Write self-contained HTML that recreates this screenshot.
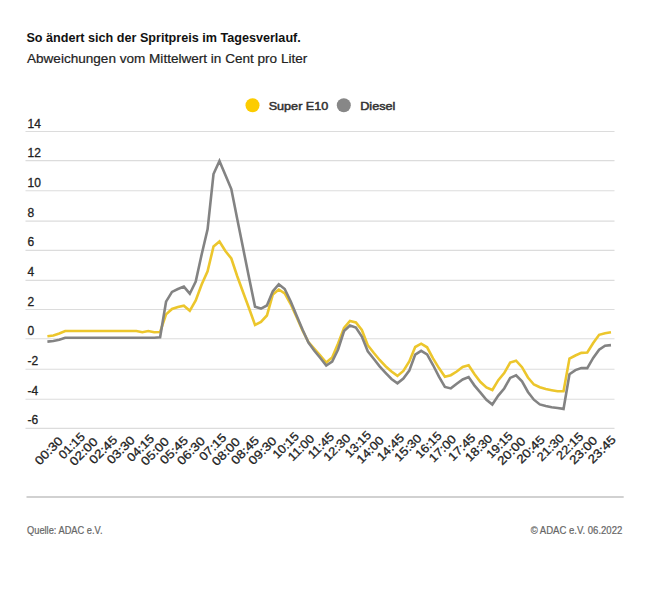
<!DOCTYPE html>
<html><head><meta charset="utf-8"><style>
html,body{margin:0;padding:0;background:#fff;}
body{width:650px;height:591px;overflow:hidden;position:relative;font-family:"Liberation Sans", sans-serif;}
svg{position:absolute;left:0;top:0;}
svg text{font-family:"Liberation Sans", sans-serif;}
</style></head><body>
<svg width="650" height="591" viewBox="0 0 650 591">
<text x="26.4" y="42.4" font-size="12" font-weight="bold" fill="#111" textLength="274.4" lengthAdjust="spacingAndGlyphs">So ändert sich der Spritpreis im Tagesverlauf.</text>
<text x="27" y="63.2" font-size="12.6" fill="#222" stroke="#222" stroke-width="0.2" textLength="280.3" lengthAdjust="spacingAndGlyphs">Abweichungen vom Mittelwert in Cent pro Liter</text>
<circle cx="252.5" cy="105.2" r="7" fill="#fccc00"/>
<text x="268.7" y="109.7" font-size="11.6" fill="#333" stroke="#333" stroke-width="0.5" textLength="59.6" lengthAdjust="spacingAndGlyphs">Super E10</text>
<circle cx="343.8" cy="105.2" r="7" fill="#878787"/>
<text x="360.2" y="109.7" font-size="11.6" fill="#333" stroke="#333" stroke-width="0.5" textLength="35.2" lengthAdjust="spacingAndGlyphs">Diesel</text>
<line x1="25.5" x2="614.5" y1="131.5" y2="131.5" stroke="#dcdcdc" stroke-width="1.1"/>
<text x="27.6" y="127.5" font-size="12" fill="#222" stroke="#222" stroke-width="0.3">14</text>
<line x1="25.5" x2="614.5" y1="160.6" y2="160.6" stroke="#dcdcdc" stroke-width="1.1"/>
<text x="27.6" y="156.6" font-size="12" fill="#222" stroke="#222" stroke-width="0.3">12</text>
<line x1="25.5" x2="614.5" y1="190.8" y2="190.8" stroke="#dcdcdc" stroke-width="1.1"/>
<text x="27.6" y="186.8" font-size="12" fill="#222" stroke="#222" stroke-width="0.3">10</text>
<line x1="25.5" x2="614.5" y1="221.1" y2="221.1" stroke="#dcdcdc" stroke-width="1.1"/>
<text x="27.6" y="217.1" font-size="12" fill="#222" stroke="#222" stroke-width="0.3">8</text>
<line x1="25.5" x2="614.5" y1="250.4" y2="250.4" stroke="#dcdcdc" stroke-width="1.1"/>
<text x="27.6" y="246.4" font-size="12" fill="#222" stroke="#222" stroke-width="0.3">6</text>
<line x1="25.5" x2="614.5" y1="280.4" y2="280.4" stroke="#dcdcdc" stroke-width="1.1"/>
<text x="27.6" y="276.4" font-size="12" fill="#222" stroke="#222" stroke-width="0.3">4</text>
<line x1="25.5" x2="614.5" y1="309.5" y2="309.5" stroke="#dcdcdc" stroke-width="1.1"/>
<text x="27.6" y="305.5" font-size="12" fill="#222" stroke="#222" stroke-width="0.3">2</text>
<line x1="25.5" x2="614.5" y1="338.75" y2="338.75" stroke="#dcdcdc" stroke-width="1.1"/>
<text x="27.6" y="334.8" font-size="12" fill="#222" stroke="#222" stroke-width="0.3">0</text>
<line x1="25.5" x2="614.5" y1="369.2" y2="369.2" stroke="#dcdcdc" stroke-width="1.1"/>
<text x="27.6" y="365.2" font-size="12" fill="#222" stroke="#222" stroke-width="0.3">-2</text>
<line x1="25.5" x2="614.5" y1="399.3" y2="399.3" stroke="#dcdcdc" stroke-width="1.1"/>
<text x="27.6" y="395.3" font-size="12" fill="#222" stroke="#222" stroke-width="0.3">-4</text>
<line x1="25.5" x2="614.5" y1="428.4" y2="428.4" stroke="#dcdcdc" stroke-width="1.1"/>
<text x="27.6" y="424.4" font-size="12" fill="#222" stroke="#222" stroke-width="0.3">-6</text>
<polyline points="47.40,336.30 53.33,335.50 59.27,333.50 65.20,331.00 71.13,331.00 77.06,331.00 83.00,331.00 88.93,331.00 94.86,331.00 100.79,331.00 106.73,331.00 112.66,331.00 118.59,331.00 124.52,331.00 130.46,331.00 136.39,331.00 142.32,332.20 148.25,331.00 154.19,332.20 160.12,332.00 166.05,314.40 171.99,309.00 177.92,307.00 183.85,305.70 189.78,310.80 195.72,300.50 201.65,284.50 207.58,271.30 213.51,246.50 219.45,241.50 225.38,251.00 231.31,258.50 237.24,276.20 243.18,292.50 249.11,308.50 255.04,325.00 260.97,322.00 266.91,315.50 272.84,294.50 278.77,289.50 284.71,293.40 290.64,304.00 296.57,317.00 302.50,330.50 308.44,342.00 314.37,348.80 320.30,355.70 326.23,362.50 332.17,357.50 338.10,343.50 344.03,328.00 349.96,321.00 355.90,322.50 361.83,330.00 367.76,345.20 373.69,352.80 379.63,360.00 385.56,366.20 391.49,371.50 397.43,375.90 403.36,371.00 409.29,361.50 415.22,347.00 421.16,343.70 427.09,347.30 433.02,358.40 438.95,368.10 444.89,376.70 450.82,375.20 456.75,371.50 462.68,367.00 468.62,365.30 474.55,374.30 480.48,382.00 486.41,387.50 492.35,390.00 498.28,380.20 504.21,373.10 510.15,362.50 516.08,360.70 522.01,367.20 527.94,377.50 533.88,384.50 539.81,387.30 545.74,389.10 551.67,390.20 557.61,391.20 563.54,391.30 569.47,358.60 575.40,355.50 581.34,352.90 587.27,352.50 593.20,343.00 599.13,334.80 605.07,333.20 611.00,332.20" fill="none" stroke="#ecc62c" stroke-width="2.6" stroke-linejoin="miter" stroke-miterlimit="4"/>
<polyline points="47.40,341.60 53.33,341.00 59.27,339.80 65.20,337.70 71.13,337.70 77.06,337.70 83.00,337.70 88.93,337.70 94.86,337.70 100.79,337.70 106.73,337.70 112.66,337.70 118.59,337.70 124.52,337.70 130.46,337.70 136.39,337.70 142.32,337.70 148.25,337.70 154.19,337.70 160.12,337.20 166.05,301.70 171.99,291.90 177.92,289.00 183.85,286.60 189.78,293.70 195.72,281.50 201.65,254.50 207.58,229.40 213.51,174.00 219.45,161.00 225.38,175.00 231.31,189.10 237.24,219.00 243.18,248.60 249.11,278.00 255.04,306.80 260.97,308.60 266.91,305.50 272.84,291.30 278.77,284.20 284.71,289.00 290.64,301.30 296.57,315.50 302.50,329.50 308.44,342.50 314.37,350.70 320.30,358.00 326.23,365.50 332.17,361.50 338.10,349.50 344.03,331.00 349.96,325.50 355.90,327.50 361.83,336.50 367.76,351.30 373.69,358.70 379.63,366.40 385.56,372.80 391.49,379.00 397.43,383.30 403.36,378.50 409.29,370.60 415.22,354.60 421.16,350.80 427.09,354.40 433.02,365.00 438.95,376.70 444.89,386.90 450.82,388.40 456.75,383.80 462.68,379.50 468.62,377.00 474.55,385.60 480.48,392.70 486.41,399.80 492.35,404.50 498.28,395.60 504.21,388.50 510.15,377.90 516.08,375.30 522.01,381.40 527.94,392.00 533.88,399.70 539.81,404.40 545.74,405.90 551.67,407.20 557.61,408.00 563.54,408.90 569.47,374.20 575.40,370.10 581.34,368.10 587.27,368.10 593.20,357.90 599.13,349.80 605.07,345.70 611.00,345.10" fill="none" stroke="#838383" stroke-width="2.6" stroke-linejoin="miter" stroke-miterlimit="4"/>
<text x="63.63" y="441.71" font-size="12" fill="#222" stroke="#222" stroke-width="0.3" text-anchor="end" textLength="33.9" lengthAdjust="spacingAndGlyphs" transform="rotate(-45 63.63 441.71)">00:30</text>
<text x="85.67" y="437.47" font-size="12" fill="#222" stroke="#222" stroke-width="0.3" text-anchor="end" textLength="31.5" lengthAdjust="spacingAndGlyphs" transform="rotate(-45 85.67 437.47)">01:15</text>
<text x="98.52" y="442.42" font-size="12" fill="#222" stroke="#222" stroke-width="0.3" text-anchor="end" textLength="33.9" lengthAdjust="spacingAndGlyphs" transform="rotate(-45 98.52 442.42)">02:00</text>
<text x="118.02" y="440.72" font-size="12" fill="#222" stroke="#222" stroke-width="0.3" text-anchor="end" textLength="33.9" lengthAdjust="spacingAndGlyphs" transform="rotate(-45 118.02 440.72)">02:45</text>
<text x="135.67" y="440.86" font-size="12" fill="#222" stroke="#222" stroke-width="0.3" text-anchor="end" textLength="33.9" lengthAdjust="spacingAndGlyphs" transform="rotate(-45 135.67 440.86)">03:30</text>
<text x="154.95" y="439.38" font-size="12" fill="#222" stroke="#222" stroke-width="0.3" text-anchor="end" textLength="32.7" lengthAdjust="spacingAndGlyphs" transform="rotate(-45 154.95 439.38)">04:15</text>
<text x="169.85" y="442.28" font-size="12" fill="#222" stroke="#222" stroke-width="0.3" text-anchor="end" textLength="33.9" lengthAdjust="spacingAndGlyphs" transform="rotate(-45 169.85 442.28)">05:00</text>
<text x="188.78" y="441.15" font-size="12" fill="#222" stroke="#222" stroke-width="0.3" text-anchor="end" textLength="33.9" lengthAdjust="spacingAndGlyphs" transform="rotate(-45 188.78 441.15)">05:45</text>
<text x="205.94" y="441.78" font-size="12" fill="#222" stroke="#222" stroke-width="0.3" text-anchor="end" textLength="33.9" lengthAdjust="spacingAndGlyphs" transform="rotate(-45 205.94 441.78)">06:30</text>
<text x="227.07" y="438.46" font-size="12" fill="#222" stroke="#222" stroke-width="0.3" text-anchor="end" textLength="32.7" lengthAdjust="spacingAndGlyphs" transform="rotate(-45 227.07 438.46)">07:15</text>
<text x="240.83" y="442.49" font-size="12" fill="#222" stroke="#222" stroke-width="0.3" text-anchor="end" textLength="33.9" lengthAdjust="spacingAndGlyphs" transform="rotate(-45 240.83 442.49)">08:00</text>
<text x="259.90" y="441.22" font-size="12" fill="#222" stroke="#222" stroke-width="0.3" text-anchor="end" textLength="33.9" lengthAdjust="spacingAndGlyphs" transform="rotate(-45 259.90 441.22)">08:45</text>
<text x="277.35" y="441.57" font-size="12" fill="#222" stroke="#222" stroke-width="0.3" text-anchor="end" textLength="33.9" lengthAdjust="spacingAndGlyphs" transform="rotate(-45 277.35 441.57)">09:30</text>
<text x="299.67" y="437.05" font-size="12" fill="#222" stroke="#222" stroke-width="0.3" text-anchor="end" textLength="31.5" lengthAdjust="spacingAndGlyphs" transform="rotate(-45 299.67 437.05)">10:15</text>
<text x="314.99" y="439.52" font-size="12" fill="#222" stroke="#222" stroke-width="0.3" text-anchor="end" textLength="31.5" lengthAdjust="spacingAndGlyphs" transform="rotate(-45 314.99 439.52)">11:00</text>
<text x="334.98" y="437.33" font-size="12" fill="#222" stroke="#222" stroke-width="0.3" text-anchor="end" textLength="31.5" lengthAdjust="spacingAndGlyphs" transform="rotate(-45 334.98 437.33)">11:45</text>
<text x="351.37" y="438.74" font-size="12" fill="#222" stroke="#222" stroke-width="0.3" text-anchor="end" textLength="32.7" lengthAdjust="spacingAndGlyphs" transform="rotate(-45 351.37 438.74)">12:30</text>
<text x="371.99" y="435.92" font-size="12" fill="#222" stroke="#222" stroke-width="0.3" text-anchor="end" textLength="31.5" lengthAdjust="spacingAndGlyphs" transform="rotate(-45 371.99 435.92)">13:15</text>
<text x="384.63" y="441.08" font-size="12" fill="#222" stroke="#222" stroke-width="0.3" text-anchor="end" textLength="32.7" lengthAdjust="spacingAndGlyphs" transform="rotate(-45 384.63 441.08)">14:00</text>
<text x="404.83" y="438.67" font-size="12" fill="#222" stroke="#222" stroke-width="0.3" text-anchor="end" textLength="32.7" lengthAdjust="spacingAndGlyphs" transform="rotate(-45 404.83 438.67)">14:45</text>
<text x="422.28" y="439.03" font-size="12" fill="#222" stroke="#222" stroke-width="0.3" text-anchor="end" textLength="32.7" lengthAdjust="spacingAndGlyphs" transform="rotate(-45 422.28 439.03)">15:30</text>
<text x="442.48" y="436.62" font-size="12" fill="#222" stroke="#222" stroke-width="0.3" text-anchor="end" textLength="31.5" lengthAdjust="spacingAndGlyphs" transform="rotate(-45 442.48 436.62)">16:15</text>
<text x="456.95" y="439.95" font-size="12" fill="#222" stroke="#222" stroke-width="0.3" text-anchor="end" textLength="32.7" lengthAdjust="spacingAndGlyphs" transform="rotate(-45 456.95 439.95)">17:00</text>
<text x="476.17" y="438.53" font-size="12" fill="#222" stroke="#222" stroke-width="0.3" text-anchor="end" textLength="32.7" lengthAdjust="spacingAndGlyphs" transform="rotate(-45 476.17 438.53)">17:45</text>
<text x="493.26" y="439.24" font-size="12" fill="#222" stroke="#222" stroke-width="0.3" text-anchor="end" textLength="32.7" lengthAdjust="spacingAndGlyphs" transform="rotate(-45 493.26 439.24)">18:30</text>
<text x="513.46" y="436.83" font-size="12" fill="#222" stroke="#222" stroke-width="0.3" text-anchor="end" textLength="31.5" lengthAdjust="spacingAndGlyphs" transform="rotate(-45 513.46 436.83)">19:15</text>
<text x="526.24" y="441.85" font-size="12" fill="#222" stroke="#222" stroke-width="0.3" text-anchor="end" textLength="33.9" lengthAdjust="spacingAndGlyphs" transform="rotate(-45 526.24 441.85)">20:00</text>
<text x="545.52" y="440.37" font-size="12" fill="#222" stroke="#222" stroke-width="0.3" text-anchor="end" textLength="33.9" lengthAdjust="spacingAndGlyphs" transform="rotate(-45 545.52 440.37)">20:45</text>
<text x="564.87" y="438.81" font-size="12" fill="#222" stroke="#222" stroke-width="0.3" text-anchor="end" textLength="32.7" lengthAdjust="spacingAndGlyphs" transform="rotate(-45 564.87 438.81)">21:30</text>
<text x="584.15" y="437.33" font-size="12" fill="#222" stroke="#222" stroke-width="0.3" text-anchor="end" textLength="32.7" lengthAdjust="spacingAndGlyphs" transform="rotate(-45 584.15 437.33)">22:15</text>
<text x="598.13" y="441.15" font-size="12" fill="#222" stroke="#222" stroke-width="0.3" text-anchor="end" textLength="33.9" lengthAdjust="spacingAndGlyphs" transform="rotate(-45 598.13 441.15)">23:00</text>
<text x="616.71" y="440.37" font-size="12" fill="#222" stroke="#222" stroke-width="0.3" text-anchor="end" textLength="33.9" lengthAdjust="spacingAndGlyphs" transform="rotate(-45 616.71 440.37)">23:45</text>
<line x1="26.5" x2="623.7" y1="497" y2="497" stroke="#c2c2c2" stroke-width="1.5"/>
<text x="27" y="533.9" font-size="10" fill="#666" stroke="#666" stroke-width="0.2" textLength="75.5" lengthAdjust="spacingAndGlyphs">Quelle: ADAC e.V.</text>
<text x="622.3" y="533.9" font-size="10" fill="#666" stroke="#666" stroke-width="0.2" text-anchor="end" textLength="91.6" lengthAdjust="spacingAndGlyphs">© ADAC e.V. 06.2022</text>
</svg>
</body></html>
